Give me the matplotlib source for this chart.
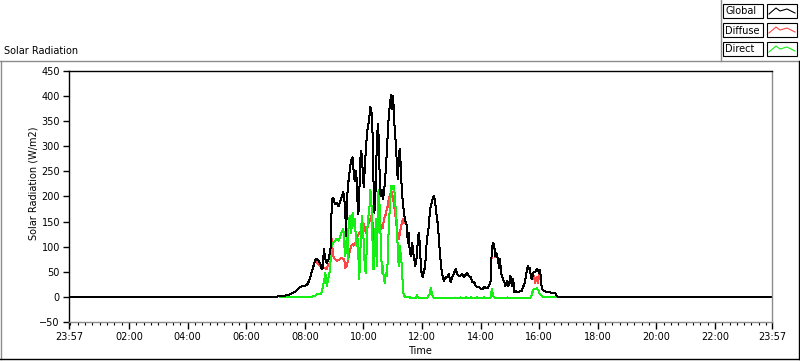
import matplotlib
matplotlib.use("Agg")
import matplotlib.pyplot as plt
import numpy as np
from matplotlib.lines import Line2D
from matplotlib.patches import Rectangle

plt.rcParams['font.family'] = 'DejaVu Sans'
plt.rcParams['font.size'] = 7

nan = np.nan

# samples (time of day, W/m2)
times = [
    "00:00", "06:49", "07:09", "07:16", "07:30", "07:40", "07:50", "07:57", "08:04", "08:09",
    "08:12", "08:16", "08:21", "08:24", "08:28", "08:31", "08:35", "08:37", "08:39", "08:42",
    "08:45", "08:48", "08:52", "08:54", "08:55", "08:58", "09:02", "09:05", "09:09", "09:12",
    "09:15", "09:19", "09:21", "09:23", "09:24", "09:26", "09:28", "09:30", "09:33", "09:35",
    "09:38", "09:40", "09:42", "09:44", "09:46", "09:49", "09:51", "09:53", "09:55", "09:57",
    "09:59", "10:01", "10:03", "10:05", "10:07", "10:09", "10:12", "10:14", "10:16", "10:18",
    "10:20", "10:22", "10:24", "10:26", "10:28", "10:30", "10:32", "10:34", "10:36", "10:38",
    "10:40", "10:42", "10:44", "10:46", "10:48", "10:50", "10:52", "10:55", "10:57", "10:59",
    "11:01", "11:03", "11:05", "11:07", "11:09", "11:11", "11:13", "11:15", "11:17", "11:19",
    "11:21", "11:23", "11:25", "11:27", "11:29", "11:31", "11:33", "11:35", "11:38", "11:40",
    "11:42", "11:44", "11:46", "11:48", "11:50", "11:52", "11:54", "11:56", "11:58", "12:00",
    "12:02", "12:04", "12:06", "12:08", "12:10", "12:12", "12:14", "12:16", "12:18", "12:21",
    "12:23", "12:25", "12:27", "12:29", "12:31", "12:33", "12:35", "12:37", "12:39", "12:41",
    "12:43", "12:45", "12:49", "12:52", "12:55", "12:59", "13:02", "13:06", "13:09", "13:12",
    "13:16", "13:19", "13:23", "13:26", "13:30", "13:33", "13:36", "13:40", "13:43", "13:47",
    "13:50", "13:53", "13:57", "14:00", "14:04", "14:07", "14:10", "14:14", "14:17", "14:21",
    "14:23", "14:26", "14:28", "14:30", "14:32", "14:34", "14:36", "14:38", "14:40", "14:42",
    "14:45", "14:47", "14:49", "14:51", "14:53", "14:55", "14:57", "14:59", "15:01", "15:03",
    "15:05", "15:07", "15:09", "15:11", "15:14", "15:17", "15:21", "15:24", "15:28", "15:31",
    "15:34", "15:37", "15:39", "15:41", "15:43", "15:45", "15:48", "15:52", "15:55", "15:58",
    "16:00", "16:02", "16:05", "16:07", "16:10", "16:14", "16:18", "16:22", "16:28", "16:33",
    "16:36", "16:40", "23:57",
]

global_wm2 = [
    0, 0, 1, 2, 5, 10, 20, 22, 23, 32,
    42, 55, 72, 76, 72, 68, 55, 58, 95, 75,
    68, 72, 92, 108, 191, 198, 185, 188, 181, 188,
    198, 209, 191, 175, 122, 168, 221, 234, 261, 271,
    278, 251, 231, 251, 238, 165, 175, 261, 291, 281,
    241, 218, 261, 291, 321, 337, 354, 379, 371, 361,
    261, 168, 181, 248, 321, 344, 301, 208, 201, 214,
    195, 208, 228, 254, 288, 327, 361, 390, 402, 374,
    400, 354, 321, 301, 248, 234, 288, 294, 248, 208,
    188, 168, 155, 148, 141, 108, 128, 88, 82, 108,
    88, 78, 62, 68, 88, 122, 128, 95, 58, 42,
    39, 52, 58, 82, 115, 125, 141, 168, 181, 191,
    198, 201, 188, 171, 155, 141, 108, 88, 62, 48,
    39, 32, 39, 39, 45, 29, 39, 48, 56, 45,
    41, 43, 45, 39, 45, 48, 41, 39, 30, 29,
    22, 19, 20, 17, 15, 19, 19, 17, 22, 32,
    98, 108, 102, 82, 88, 82, 72, 58, 75, 48,
    39, 32, 29, 22, 29, 32, 22, 29, 42, 29,
    22, 35, 9, 12, 9, 10, 11, 12, 22, 29,
    48, 62, 55, 58, 42, 35, 48, 50, 55, 53,
    48, 53, 22, 15, 12, 10, 9, 9, 7, 7,
    2, 0, 0,
]

diffuse_wm2 = [
    0, 0, 1, 2, 5, 10, 20, 22, 23, 32,
    42, 55, 72, 70, 65, 62, 55, 58, 58, 58,
    55, 65, 62, 88, 115, 82, 75, 72, 74, 75,
    78, 76, 72, 58, 60, 62, 70, 82, 95, 102,
    105, 102, 105, 108, 115, 122, 128, 125, 135, 141,
    145, 145, 138, 128, 135, 141, 150, 155, 161, 155,
    135, 108, 110, 115, 135, 148, 153, 155, 135, 141,
    138, 155, 160, 165, 175, 181, 195, 205, 211, 205,
    195, 181, 168, 148, 135, 122, 115, 128, 141, 148,
    155, 148, 151, 148, 141, 108, 128, 88, 82, 108,
    88, 78, 62, 68, 88, 122, 128, 95, 58, 42,
    39, 52, 58, 82, 115, 125, 141, 168, 181, 191,
    198, 201, 188, 171, 155, 141, 108, 88, 62, 48,
    39, 32, 39, 39, 45, 29, 39, 48, 56, 45,
    41, 43, 45, 39, 45, 48, 41, 39, 30, 29,
    22, 19, 20, 17, 15, 19, 19, 17, 22, 32,
    95, 105, 100, 80, 85, 82, 72, 58, 72, 48,
    39, 32, 29, 22, 29, 32, 22, 29, 42, 29,
    22, 35, 9, 12, 9, 10, 11, 12, 22, 29,
    48, 62, 55, 58, 42, 35, 45, 28, 40, 28,
    45, 50, 22, 15, 12, 10, 9, 9, 7, 7,
    2, 0, 0,
]

direct_wm2 = [
    nan, nan, -1, -1, -1, -1, -1, -1, -1, -1,
    0, 1, 2, 5, 5, 5, 9, 22, 28, 48,
    22, 35, 55, 100, 102, 108, 112, 115, 112, 118,
    128, 135, 102, 82, 100, 118, 75, 155, 161, 128,
    168, 141, 155, 128, 102, 115, 35, 62, 128, 161,
    141, 102, 55, 48, 102, 155, 168, 214, 201, 141,
    55, 55, 122, 155, 62, 207, 214, 155, 100, 48,
    62, 35, 28, 48, 42, 75, 143, 188, 221, 214,
    221, 221, 188, 168, 135, 75, 62, 102, 75, 62,
    15, 2, 1, -1, -1, -1, -1, -1, -2, -2,
    -2, -2, -2, -2, 3, -1, -2, -2, -2, -2,
    -2, -2, -2, -2, -2, 0, 3, 5, 17, 5,
    0, -2, -2, -2, -2, -2, -2, -2, -2, -2,
    -2, -2, -2, -2, -2, -2, -2, -2, -2, -2,
    -2, -1, -2, -2, -1, -2, -2, -1, -2, -2,
    -2, -1, -2, -2, -2, -1, -2, -2, -2, -1,
    15, 2, -1, -2, -2, -2, -2, -2, -2, -2,
    -2, -2, -2, -2, -2, -1, -2, -2, -2, -2,
    -2, -2, -2, -2, -2, -2, -2, -2, -2, -2,
    -2, -2, -2, -2, -1, 5, 15, 15, 17, 14,
    9, 5, 3, 1, 0, -1, -1, -1, -1, -1,
    -1, 0, nan,
]

x_tick_labels = ["23:57", "02:00", "04:00", "06:00", "08:00", "10:00", "12:00",
                 "14:00", "16:00", "18:00", "20:00", "22:00", "23:57"]
y_ticks = [-50, 0, 50, 100, 150, 200, 250, 300, 350, 400, 450]

series_names = ["Global", "Diffuse", "Direct"]
series_colors = ["#000000", "#ff4646", "#14f014"]


def to_min(s):
    h, m = s.split(":")
    return int(h) * 60 + int(m)


t = np.array([to_min(s) for s in times], dtype=float)
tick_pos = [to_min(s) for s in x_tick_labels]
tick_pos[0] -= 1440  # axis starts at 23:57 of the previous day

W, H = 800, 361


def fx(x):
    return x / W


def fy(y):
    return 1 - y / H


fig = plt.figure(figsize=(W / 100, H / 100), dpi=100)
ax = fig.add_axes([fx(69), fy(322), fx(772) - fx(69), fy(71) - fy(322)])

ax.plot(t, diffuse_wm2, color=series_colors[1], lw=0.72, antialiased=False)
ax.plot(t, direct_wm2, color=series_colors[2], lw=0.72, antialiased=False)
ax.plot(t, global_wm2, color=series_colors[0], lw=0.72, antialiased=False)

ax.set_xlim(tick_pos[0], tick_pos[-1])
ax.set_ylim(-50, 450)
ax.set_xticks(tick_pos)
ax.set_xticklabels(x_tick_labels)
ax.set_xticks(np.arange(0, 1440, 15), minor=True)
ax.set_yticks(y_ticks)
ax.tick_params(axis="x", which="major", length=5, width=1, pad=2)
ax.tick_params(axis="x", which="minor", length=2.5, width=0.8)
ax.tick_params(axis="y", length=4.5, width=1, pad=2)

for side in ["left", "top"]:
    ax.spines[side].set_color("black")
    ax.spines[side].set_linewidth(1.0)
for side in ["right", "bottom"]:
    ax.spines[side].set_color("#8c8c8c")
    ax.spines[side].set_linewidth(1.0)

# texts
fig.text(fx(4), fy(51), "Solar Radiation", ha="left", va="center")
fig.text(fx(33), fy(183), "Solar Radiation (W/m2)", rotation=90, ha="center", va="center")
fig.text(fx(420), fy(351), "Time", ha="center", va="center")

# outer panel frame
frame_kw = dict(transform=fig.transFigure, lw=1.0)
fig.add_artist(Line2D([fx(0.5), fx(0.5)], [fy(61), fy(359)], color="#8c8c8c", **frame_kw))
fig.add_artist(Line2D([fx(0), fx(800)], [fy(61), fy(61)], color="#8c8c8c", **frame_kw))
fig.add_artist(Line2D([fx(0), fx(799)], [fy(359), fy(359)], color="black", **frame_kw))
fig.add_artist(Line2D([fx(798.5), fx(798.5)], [fy(61), fy(359)], color="black", **frame_kw))

# legend
fig.add_artist(Line2D([fx(721), fx(721)], [fy(0), fy(61)], color="#8c8c8c", **frame_kw))
zig_x = [769, 776, 780, 787, 795]
zig_y = [10, 4, 7, 5, 9]
for i, name in enumerate(series_names):
    top = 4 + i * 19
    fig.add_artist(Rectangle((fx(723), fy(top + 14)), fx(763) - fx(723), fy(top) - fy(top + 14),
                             transform=fig.transFigure, facecolor="white", edgecolor="black", lw=0.8))
    fig.add_artist(Rectangle((fx(767), fy(top + 14)), fx(797) - fx(767), fy(top) - fy(top + 14),
                             transform=fig.transFigure, facecolor="white", edgecolor="black", lw=0.8))
    fig.text(fx(725), fy(top + 7.5), name, ha="left", va="center")
    fig.add_artist(Line2D([fx(x) for x in zig_x], [fy(top + y) for y in zig_y],
                          color=series_colors[i], lw=0.8, transform=fig.transFigure))

fig.savefig("out.png", dpi=100)
